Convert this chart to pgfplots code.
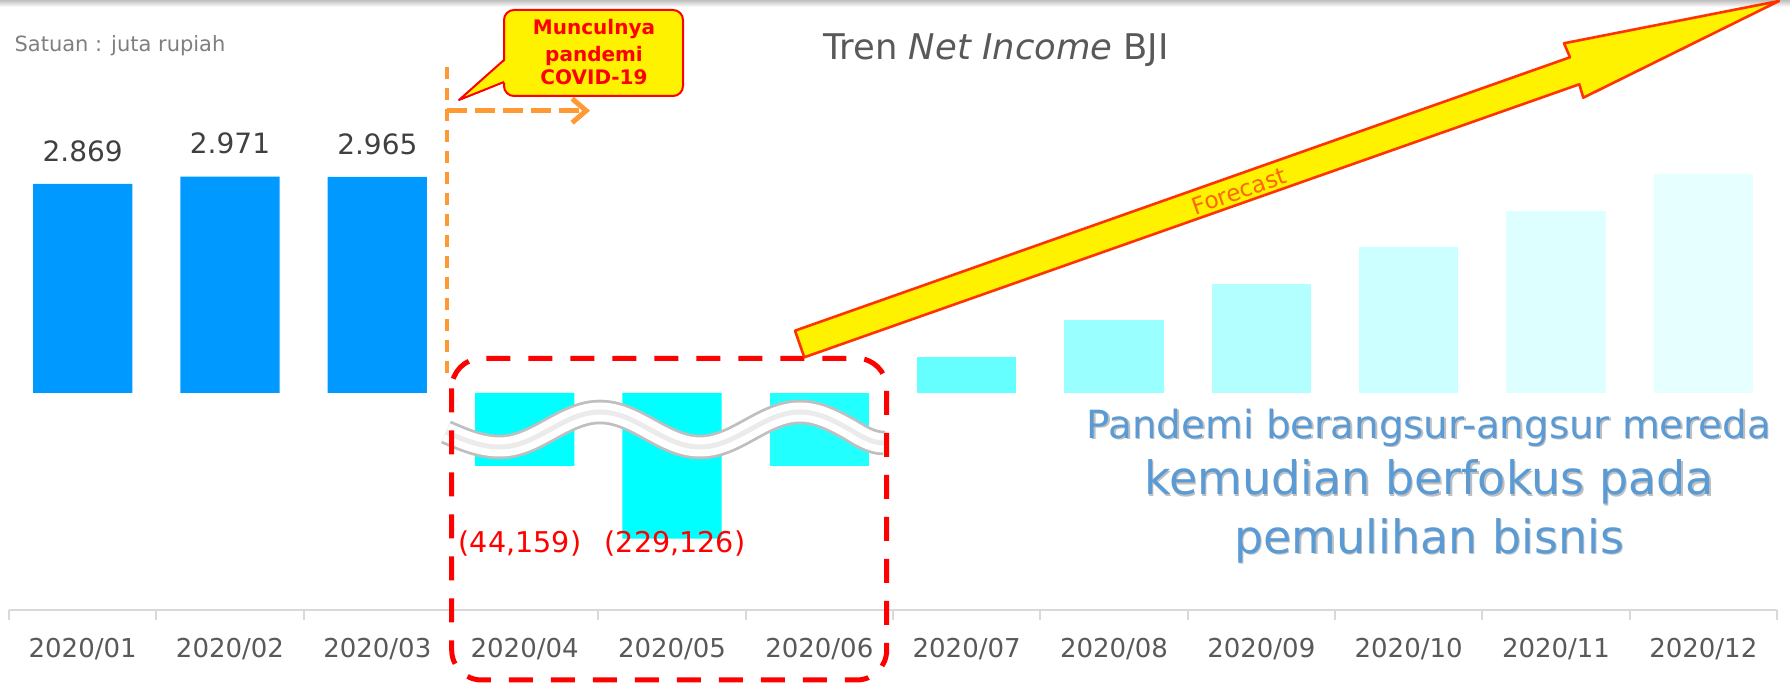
\documentclass[border=0pt]{standalone}
\usepackage{fontspec}
\setmainfont{DejaVu Sans}
\usepackage{pgfplots}
\pgfplotsset{compat=1.18}
\usetikzlibrary{arrows.meta}

\definecolor{actualblue}{HTML}{0099FF}
\definecolor{negcyan}{HTML}{00FFFF}
\definecolor{juncyan}{HTML}{22FFFF}
\definecolor{fcJul}{HTML}{66FFFF}
\definecolor{fcAug}{HTML}{99FFFF}
\definecolor{fcSep}{HTML}{B3FFFF}
\definecolor{fcOct}{HTML}{CCFFFF}
\definecolor{fcNov}{HTML}{DDFFFF}
\definecolor{fcDec}{HTML}{E6FFFF}
\definecolor{axisgray}{HTML}{D9D9D9}
\definecolor{labgray}{HTML}{595959}
\definecolor{valgray}{HTML}{404040}
\definecolor{subgray}{HTML}{7F7F7F}
\definecolor{covidorange}{HTML}{FF9933}
\definecolor{arrowred}{HTML}{FF3300}
\definecolor{fctext}{HTML}{FF6600}
\definecolor{msgblue}{HTML}{5B9BD5}

\begin{document}
\begin{tikzpicture}
\begin{axis}[
  at={(4.5pt,-305pt)}, anchor=south west,
  width=884pt, height=305pt, scale only axis,
  xmin=-0.5, xmax=11.5, ymin=-2980, ymax=5395,
  axis x line=bottom, axis y line=none,
  x axis line style={-, draw=axisgray, line width=1.3pt},
  xtick={0,...,11},
  xticklabels={2020/01,2020/02,2020/03,2020/04,2020/05,2020/06,
               2020/07,2020/08,2020/09,2020/10,2020/11,2020/12},
  major tick length=0pt,
  extra x ticks={-0.5,0.5,...,11.5},
  extra x tick labels={},
  extra x tick style={tick align=outside, major tick length=5pt,
                      tick style={draw=axisgray, line width=1pt}},
  xticklabel style={anchor=base, yshift=-24pt, text=labgray,
                    font=\fontsize{13}{15}\selectfont},
  ytick=\empty,
  ybar, bar width=49.6pt, bar shift=0pt,
  clip=false,
]
% realisasi
\addplot[fill=actualblue, draw=none, bar shift=0pt,
  nodes near coords, point meta=explicit symbolic,
  nodes near coords style={anchor=south, inner sep=0pt, yshift=11pt,
    text=valgray, font=\fontsize{14}{16}\selectfont}]
  table[meta=label] {
  x y label
  0 2869 2.869
  1 2971 2.971
  2 2965 2.965
};
% rugi (skala terpotong)
\addplot[fill=negcyan, draw=none, bar shift=0pt] coordinates {(3,-1000) (4,-2000)};
\addplot[fill=juncyan, draw=none, bar shift=0pt] coordinates {(5,-1000)};
% forecast
\addplot[fill=fcJul, draw=none, bar shift=0pt] coordinates {(6,500)};
\addplot[fill=fcAug, draw=none, bar shift=0pt] coordinates {(7,1000)};
\addplot[fill=fcSep, draw=none, bar shift=0pt] coordinates {(8,1500)};
\addplot[fill=fcOct, draw=none, bar shift=0pt] coordinates {(9,2000)};
\addplot[fill=fcNov, draw=none, bar shift=0pt] coordinates {(10,2500)};
\addplot[fill=fcDec, draw=none, bar shift=0pt] coordinates {(11,3000)};
\end{axis}

% annotations, in pixels from the top left corner
\begin{scope}[x=0.5pt, y=-0.5pt]
  \shade[top color=black!25, bottom color=white] (0,0) rectangle (1790,7);
  \node[anchor=base, text=subgray, font=\fontsize{10.5}{12}\selectfont] at (120,52) {Satuan : juta rupiah};
  \node[anchor=base, text=labgray, font=\fontsize{17.7}{20}\selectfont] at (996,60) {Tren \textit{Net Income} BJI};

  % garis COVID
  \draw[covidorange, line width=2pt, dash pattern=on 6pt off 4.5pt] (446.6,67) -- (446.6,382);
  \draw[covidorange, line width=2.5pt, dash pattern=on 10pt off 4pt,
        -{Straight Barb[length=7pt,width=12pt]}] (446.6,110.7) -- (590,110.7);

  % callout
  \filldraw[fill=yellow, draw=red, line width=1pt, rounded corners=5pt] (504,10) rectangle (683,96);
  \fill[yellow] (506,60) -- (459,100) -- (506,82) -- cycle;
  \draw[red, line width=1pt, line join=round] (504,60) -- (459,100) -- (504,82);
  \begin{scope}[every node/.style={anchor=base, text=red, font=\fontsize{10}{12}\selectfont\bfseries}]
    \node at (594,35) {Munculnya};
    \node at (594,61.5) {pandemi};
    \node at (594,85) {COVID-19};
  \end{scope}

  % gelombang (sumbu terpotong)
  \draw[draw=black!25, line width=1.4pt, double=white, double distance=9.5pt]
    (446,432) sin (500,447) cos (550,429.5) sin (600,412) cos (650,429.5)
    sin (700,447) cos (750,429.5) sin (800,412) cos (850,429.5) sin (884,443);
  \draw[black!8, line width=2.5pt]
    (446,432) sin (500,447) cos (550,429.5) sin (600,412) cos (650,429.5)
    sin (700,447) cos (750,429.5) sin (800,412) cos (850,429.5) sin (884,443);

  % label rugi
  \node[anchor=base, text=red, font=\fontsize{14.3}{16}\selectfont] at (520,553) {(44,159)};
  \node[anchor=base, text=red, font=\fontsize{14.3}{16}\selectfont] at (675,553) {(229,126)};

  % kotak merah
  \draw[red, line width=2.5pt, dash pattern=on 12pt off 9pt, rounded corners=15pt]
    (451.7,358.3) rectangle (886.7,680);

  % panah forecast
  \draw[fill=yellow, draw=arrowred, line width=1.3pt, line join=round]
    (795,330.7) -- (1570,57.3) -- (1564,43.3) -- (1779,1) -- (1583.3,97.7)
    -- (1579.3,84.3) -- (804.3,357.3) -- cycle;
  \node[rotate=19.4, text=fctext, inner sep=0pt, font=\fontsize{11.6}{14}\selectfont] at (1239,191) {Forecast};

  % pesan
  \begin{scope}[every node/.style={anchor=base}]
    \foreach \dx/\col/\op in {1.5/black/0.25, 0/msgblue/1} {
      \node[text=\col, text opacity=\op, font=\fontsize{19.4}{22}\selectfont] at (1429+\dx,438.3+\dx) {Pandemi berangsur-angsur mereda};
      \node[text=\col, text opacity=\op, font=\fontsize{23}{26}\selectfont] at (1429+\dx,495+\dx) {kemudian berfokus pada};
      \node[text=\col, text opacity=\op, font=\fontsize{23}{26}\selectfont] at (1429+\dx,553.3+\dx) {pemulihan bisnis};
    }
  \end{scope}

  \pgfresetboundingbox
  \path[use as bounding box] (0,0) rectangle (1790,683);
\end{scope}
\end{tikzpicture}
\end{document}
